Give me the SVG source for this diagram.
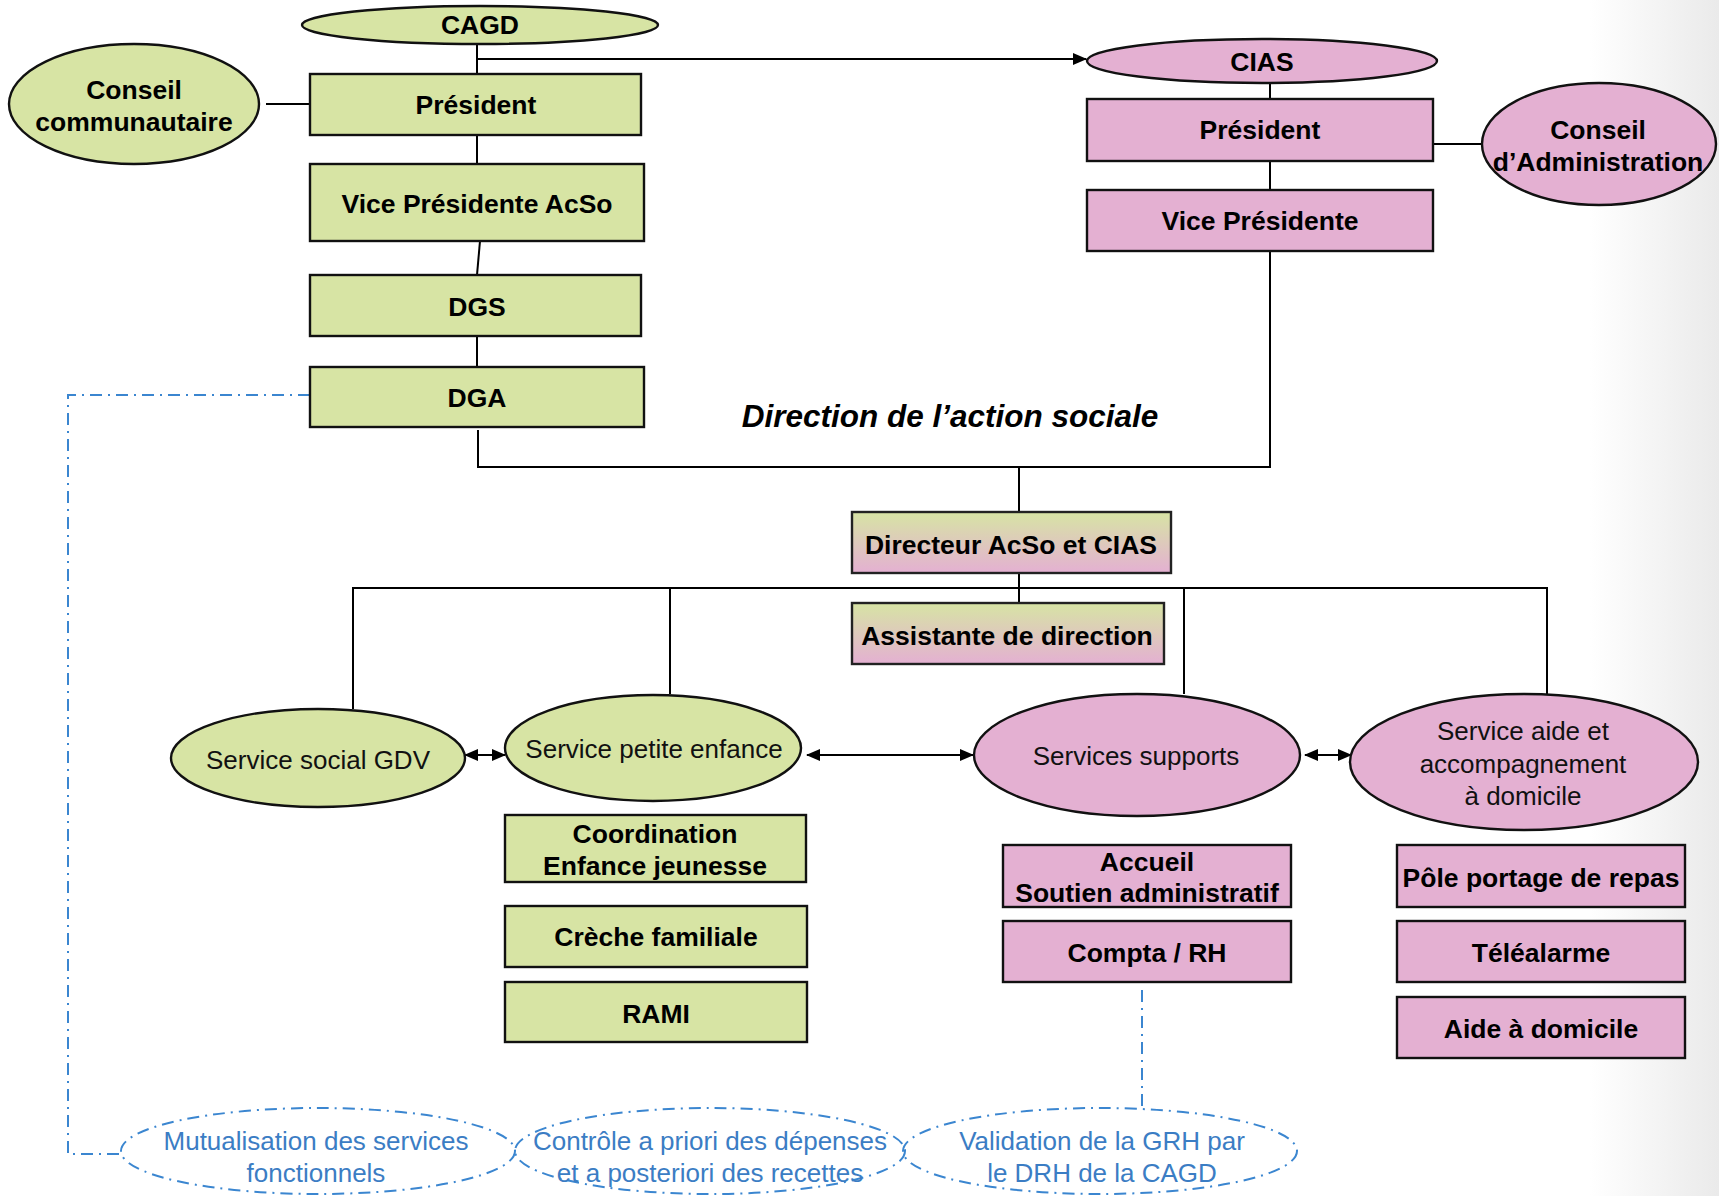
<svg xmlns="http://www.w3.org/2000/svg" width="1719" height="1196" viewBox="0 0 1719 1196">
<defs>
<linearGradient id="bgfade" x1="0" y1="0" x2="1" y2="0">
<stop offset="0" stop-color="#ffffff"/>
<stop offset="1" stop-color="#eaeaea"/>
</linearGradient>
<linearGradient id="gp" x1="0" y1="0" x2="0" y2="1">
<stop offset="0" stop-color="#d7e4a4"/>
<stop offset="1" stop-color="#e4b0d2"/>
</linearGradient>
<marker id="arr" viewBox="0 0 14 12" refX="13" refY="6" markerWidth="14" markerHeight="12" markerUnits="userSpaceOnUse" orient="auto-start-reverse">
<path d="M0,0 L14,6 L0,12 Z" fill="#000"/>
</marker>
<style>
.g{fill:#d7e4a4;stroke:#111;stroke-width:2.4}
.p{fill:#e4b0d2;stroke:#111;stroke-width:2.4}
.gp{fill:url(#gp);stroke:#222;stroke-width:2.4}
.b{font-family:"Liberation Sans",Arial,sans-serif;font-weight:bold;font-size:26.5px;fill:#000;text-anchor:middle}
.r{font-family:"Liberation Sans",Arial,sans-serif;font-size:26px;fill:#111;text-anchor:middle}
.bl{font-family:"Liberation Sans",Arial,sans-serif;font-size:26px;fill:#3b7dc4;text-anchor:middle}
.ln{fill:none;stroke:#000;stroke-width:2}
.dd{fill:none;stroke:#3b86d0;stroke-width:2;stroke-dasharray:12,6,2,6}
</style>
</defs>
<rect x="0" y="0" width="1719" height="1196" fill="#fff"/>
<rect x="1590" y="0" width="129" height="1196" fill="url(#bgfade)"/>

<g id="connectors">
<path class="ln" d="M477,43 V88"/>
<path class="ln" d="M477,59 H1086" marker-end="url(#arr)"/>
<path class="ln" d="M266,104 H310"/>
<path class="ln" d="M477,135 V164"/>
<path class="ln" d="M480,241 L477,275"/>
<path class="ln" d="M477,336 V367"/>
<path class="ln" d="M478,430 V467 H1270 V251"/>
<path class="ln" d="M1270,83 V99"/>
<path class="ln" d="M1270,161 V190"/>
<path class="ln" d="M1433,144 H1482"/>
<path class="ln" d="M1019,467 V512"/>
<path class="ln" d="M1019,573 V603"/>
<path class="ln" d="M353,709 V588 H1547 V694"/>
<path class="ln" d="M670,588 V694"/>
<path class="ln" d="M1184,588 V694"/>
<path class="ln" d="M465,755 H505" marker-start="url(#arr)" marker-end="url(#arr)"/>
<path class="ln" d="M807,755 H973" marker-start="url(#arr)" marker-end="url(#arr)"/>
<path class="ln" d="M1305,755 H1351" marker-start="url(#arr)" marker-end="url(#arr)"/>
<path class="dd" d="M310,395 H68 V1154 H121"/>
<path class="dd" d="M1142,990 V1106"/>
</g>

<g id="cagd"><ellipse class="g" cx="480" cy="25" rx="178" ry="19"/><text class="b" x="480" y="34">CAGD</text></g>
<g id="conseil-communautaire"><ellipse class="g" cx="134" cy="104" rx="125" ry="60"/><text class="b" x="134" y="99">Conseil</text><text class="b" x="134" y="131">communautaire</text></g>
<g id="president-cagd"><rect class="g" x="310" y="74" width="331" height="61"/><text class="b" x="476" y="114">Président</text></g>
<g id="vp-acso"><rect class="g" x="310" y="164" width="334" height="77"/><text class="b" x="477" y="213">Vice Présidente AcSo</text></g>
<g id="dgs"><rect class="g" x="310" y="275" width="331" height="61"/><text class="b" x="477" y="316">DGS</text></g>
<g id="dga"><rect class="g" x="310" y="367" width="334" height="60"/><text class="b" x="477" y="407">DGA</text></g>

<g id="cias"><ellipse class="p" cx="1262" cy="61" rx="175" ry="22"/><text class="b" x="1262" y="71">CIAS</text></g>
<g id="president-cias"><rect class="p" x="1087" y="99" width="346" height="62"/><text class="b" x="1260" y="139">Président</text></g>
<g id="vp-cias"><rect class="p" x="1087" y="190" width="346" height="61"/><text class="b" x="1260" y="230">Vice Présidente</text></g>
<g id="conseil-admin"><ellipse class="p" cx="1599" cy="144" rx="117" ry="61"/><text class="b" x="1598" y="139">Conseil</text><text class="b" x="1598" y="171">d’Administration</text></g>

<g id="direction-label"><text x="950" y="427" font-family="'Liberation Sans',Arial,sans-serif" font-weight="bold" font-style="italic" font-size="31.5" text-anchor="middle" fill="#000">Direction de l’action sociale</text></g>

<g id="directeur"><rect class="gp" x="852" y="512" width="319" height="61"/><text class="b" x="1011" y="554">Directeur AcSo et CIAS</text></g>
<g id="assistante"><rect class="gp" x="852" y="603" width="312" height="61"/><text class="b" x="1007" y="645">Assistante de direction</text></g>

<g id="service-social"><ellipse class="g" cx="318" cy="758" rx="147" ry="49"/><text class="r" x="318" y="769">Service social GDV</text></g>
<g id="service-petite-enfance"><ellipse class="g" cx="653" cy="748" rx="148" ry="53"/><text class="r" x="654" y="758">Service petite enfance</text></g>
<g id="services-supports"><ellipse class="p" cx="1137" cy="755" rx="163" ry="61"/><text class="r" x="1136" y="765">Services supports</text></g>
<g id="service-aide"><ellipse class="p" cx="1524" cy="762" rx="174" ry="68"/><text class="r" x="1523" y="740">Service aide et</text><text class="r" x="1523" y="773">accompagnement</text><text class="r" x="1523" y="805">à domicile</text></g>

<g id="coordination"><rect class="g" x="505" y="815" width="301" height="67"/><text class="b" x="655" y="843">Coordination</text><text class="b" x="655" y="875">Enfance jeunesse</text></g>
<g id="creche"><rect class="g" x="505" y="906" width="302" height="61"/><text class="b" x="656" y="946">Crèche familiale</text></g>
<g id="rami"><rect class="g" x="505" y="982" width="302" height="60"/><text class="b" x="656" y="1023">RAMI</text></g>

<g id="accueil"><rect class="p" x="1003" y="845" width="288" height="62"/><text class="b" x="1147" y="871">Accueil</text><text class="b" x="1147" y="902">Soutien administratif</text></g>
<g id="compta"><rect class="p" x="1003" y="921" width="288" height="61"/><text class="b" x="1147" y="962">Compta / RH</text></g>

<g id="portage"><rect class="p" x="1397" y="845" width="288" height="62"/><text class="b" x="1541" y="887">Pôle portage de repas</text></g>
<g id="telealarme"><rect class="p" x="1397" y="921" width="288" height="61"/><text class="b" x="1541" y="962">Téléalarme</text></g>
<g id="aide-domicile"><rect class="p" x="1397" y="997" width="288" height="61"/><text class="b" x="1541" y="1038">Aide à domicile</text></g>

<g id="mutualisation"><ellipse class="dd" cx="318" cy="1151" rx="197" ry="43"/><text class="bl" x="316" y="1150">Mutualisation des services</text><text class="bl" x="316" y="1182">fonctionnels</text></g>
<g id="controle"><ellipse class="dd" cx="710" cy="1151" rx="195" ry="43"/><text class="bl" x="710" y="1150">Contrôle a priori des dépenses</text><text class="bl" x="710" y="1182">et a posteriori des recettes</text></g>
<g id="validation"><ellipse class="dd" cx="1100" cy="1151" rx="197" ry="43"/><text class="bl" x="1102" y="1150">Validation de la GRH par</text><text class="bl" x="1102" y="1182">le DRH de la CAGD</text></g>
</svg>
